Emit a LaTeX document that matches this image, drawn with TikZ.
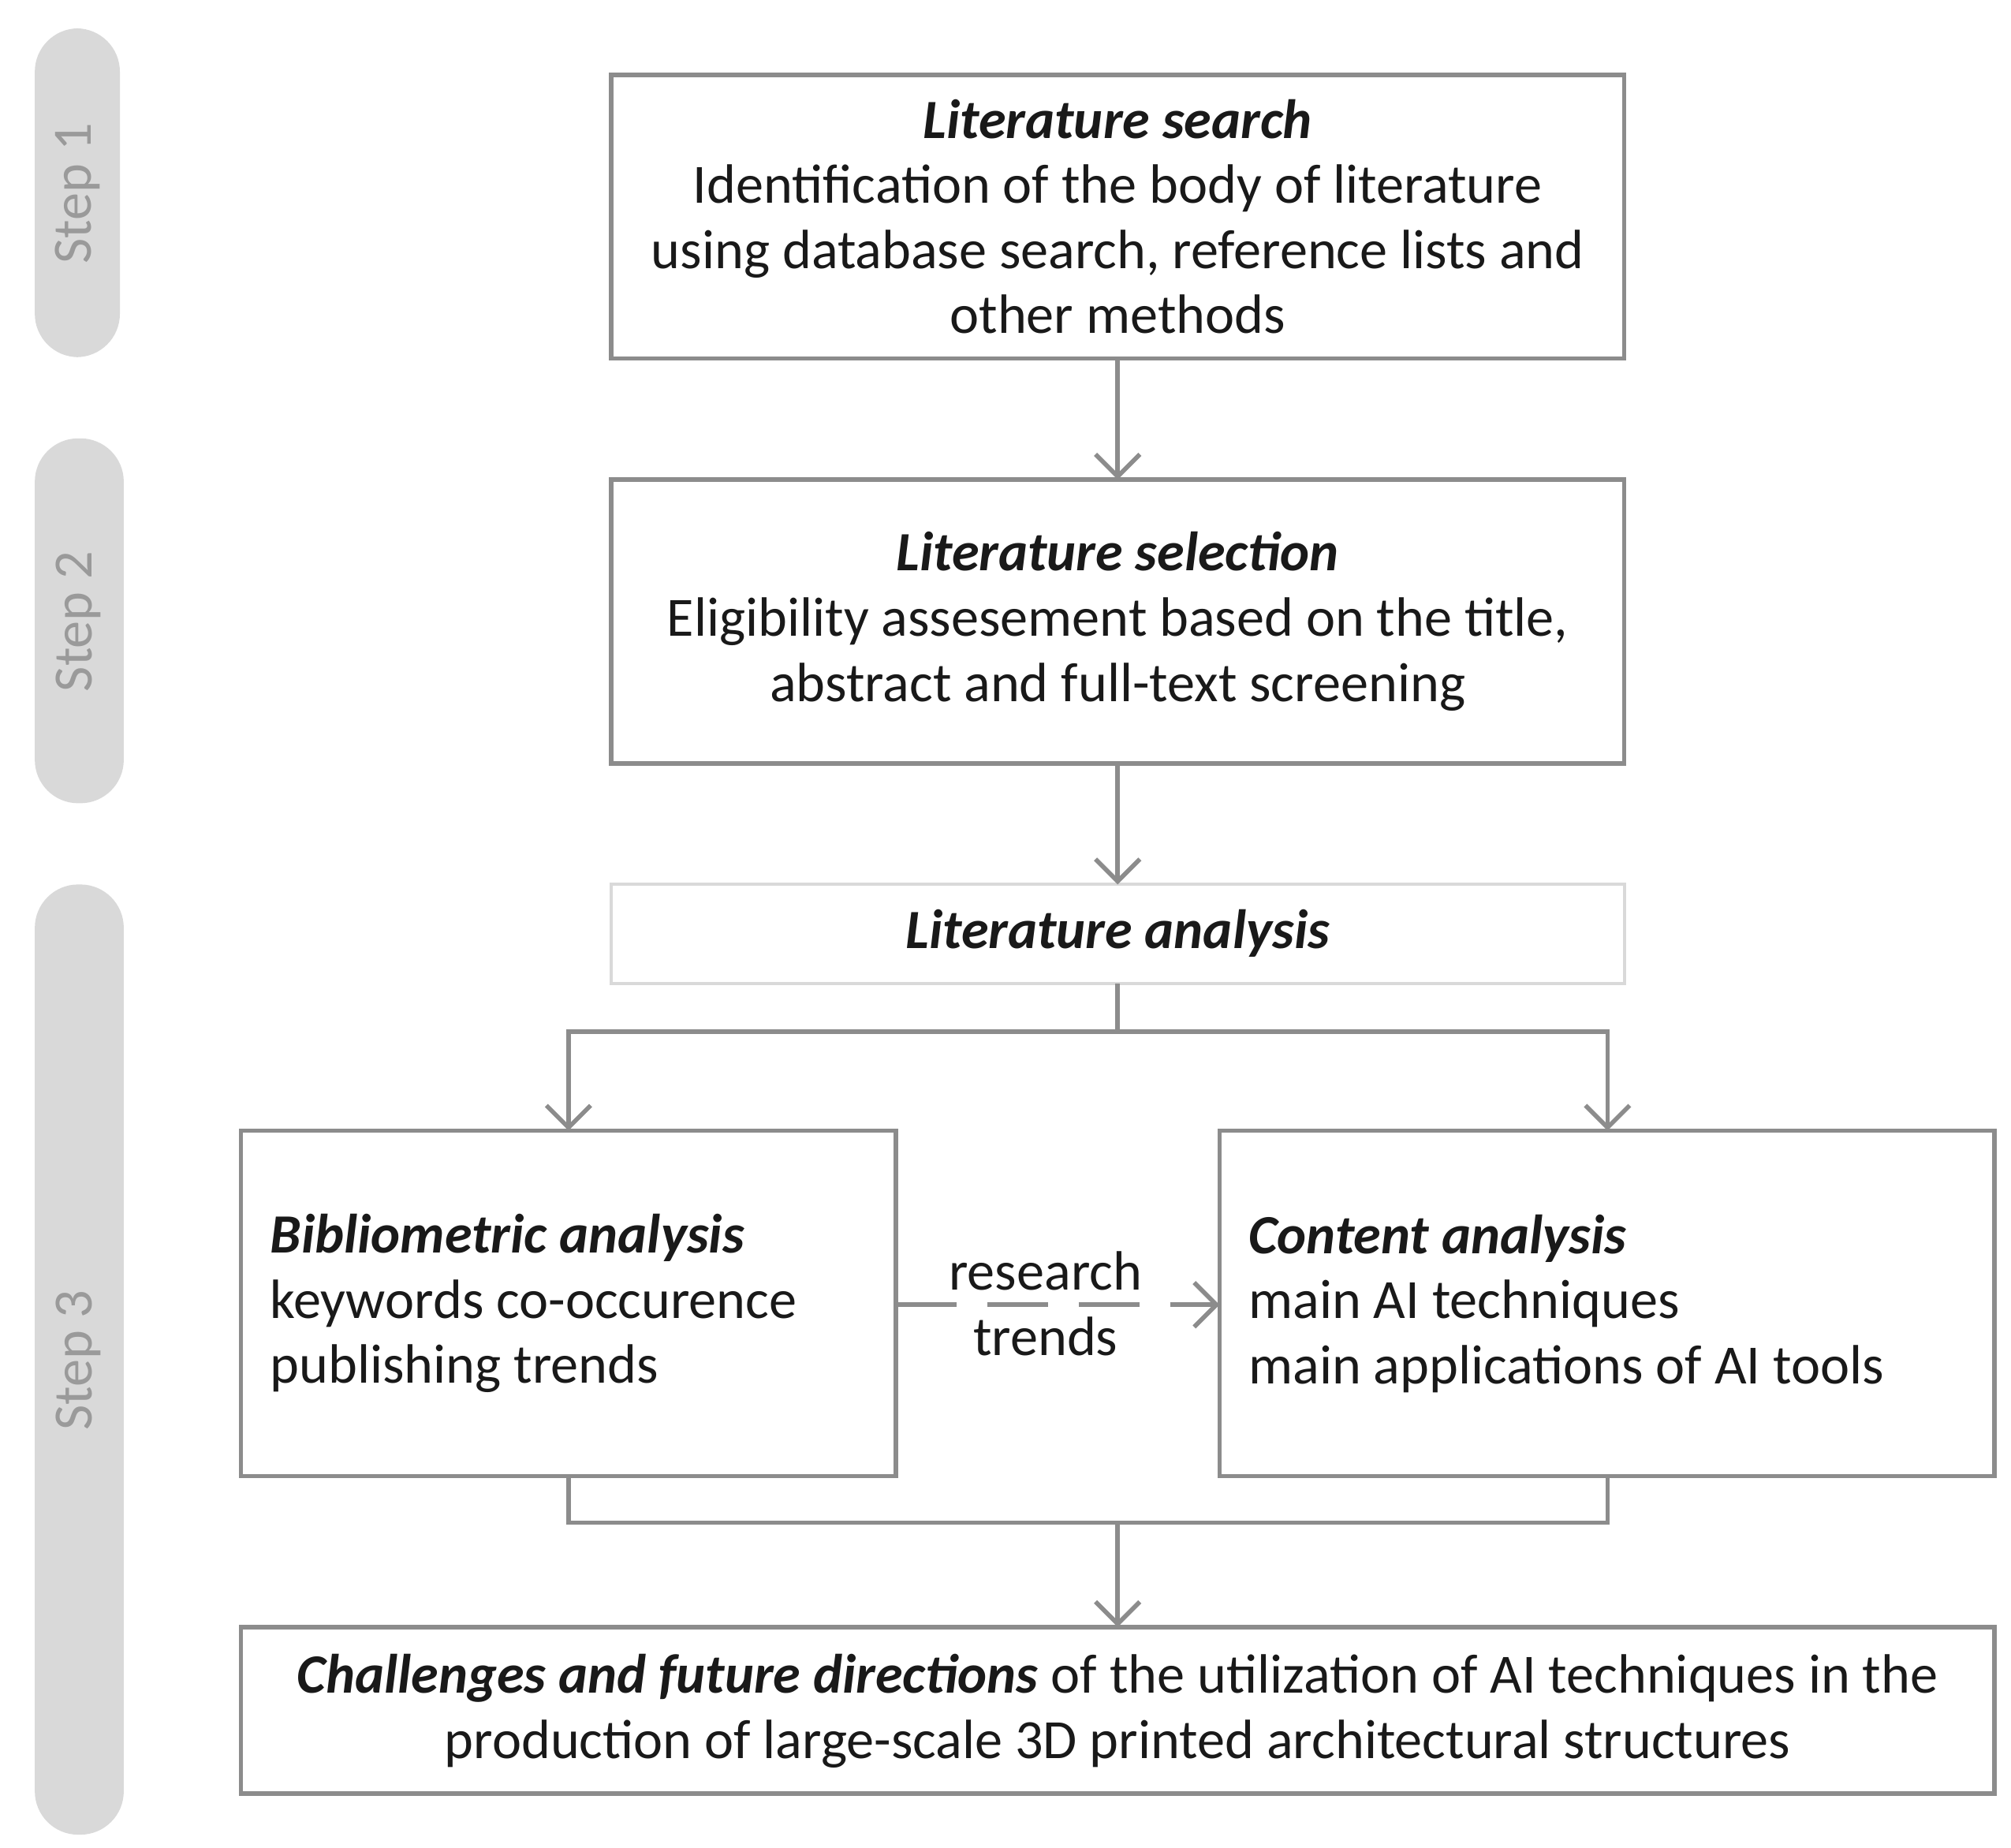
\documentclass[tikz,border=0pt]{standalone}
\usepackage{fontspec}
\setmainfont{Carlito}
\usetikzlibrary{arrows.meta}
\definecolor{ln}{HTML}{8C8C8C}
\definecolor{bar}{HTML}{D9D9D9}
\definecolor{bt}{HTML}{9A9A9A}
\begin{document}
\begin{tikzpicture}[x=0.01635cm,y=-0.01635cm,
  box/.style={draw=ln,line width=1.6pt},
  lbox/.style={draw=bar,line width=1.2pt},
  stepbar/.style={fill=bar,draw=none,rounded corners=0.55cm},
  steptxt/.style={text=bt,rotate=90,font=\fontsize{20}{22}\selectfont},
  txt/.style={align=center,font=\fontsize{20}{23.5}\selectfont,text=black!90},
  ltxt/.style={align=left,font=\fontsize{20}{23.5}\selectfont,text=black!90,anchor=west},
  arr/.style={draw=ln,line width=1.6pt,-{Straight Barb[length=8pt,width=16pt,line width=1.6pt]}},
  con/.style={draw=ln,line width=1.6pt}]
\useasboundingbox (0,0) rectangle (1560,1433);
\fill[stepbar] (27,22) rectangle (93,277);
\fill[stepbar] (27,340) rectangle (96,623);
\fill[stepbar] (27,686) rectangle (96,1423);
\node[steptxt] (s1) at (60,150) {Step 1};
\node[steptxt] (s2) at (61,482) {Step 2};
\node[steptxt] (s3) at (61,1055) {Step 3};
\draw[box] (474,58) rectangle (1260,278);
\draw[box] (474,372) rectangle (1260,592);
\draw[lbox] (474,686) rectangle (1260,763);
\draw[box] (187,877) rectangle (695,1145);
\draw[box] (946,877) rectangle (1547,1145);
\draw[box] (187,1262) rectangle (1547,1391);
\node[txt] (b1) at (867,168) {\textbf{\textit{Literature search}}\\Identification of the body of literature\\using database search, reference lists and\\other methods};
\node[txt] (b2) at (867,482) {\textbf{\textit{Literature selection}}\\Eligibility assesement based on the title,\\abstract and full-text screening};
\node[txt] (b3) at (867,724) {\textbf{\textit{Literature analysis}}};
\node[ltxt] (b4) at (202,1011) {\textbf{\textit{Bibliometric analysis}}\\keywords co-occurence\\publishing trends};
\node[ltxt] (b5) at (961,1011) {\textbf{\textit{Content analysis}}\\main AI techniques\\main applications of AI tools};
\node[txt] (b6) at (867,1327) {\textbf{\textit{Challenges and future directions}} of the utilization of AI techniques in the\\production of large-scale 3D printed architectural structures};
\coordinate (t1) at (867,278); \coordinate (h2) at (867,372);
\coordinate (t2) at (867,592); \coordinate (h3) at (867,686);
\draw[arr] (t1) -- (h2);
\draw[arr] (t2) -- (h3);
\coordinate (t3) at (867,763); \coordinate (m) at (867,800);
\draw[con] (t3) -- (m);
\draw[arr] (m) -| (441,877);
\draw[arr] (m) -| (1247,877);
\draw[con] (441,1145) |- (1247,1181) -- (1247,1145);
\draw[arr] (867,1181) -- (867,1262);
\coordinate (d1) at (695,1012); \coordinate (d2) at (946,1012);
\draw[arr,dash pattern=on 22pt off 11pt] (d1) -- (d2);
\node[txt,inner sep=1pt] (rt) at (811,1011) {research\\trends};
\end{tikzpicture}
\end{document}
